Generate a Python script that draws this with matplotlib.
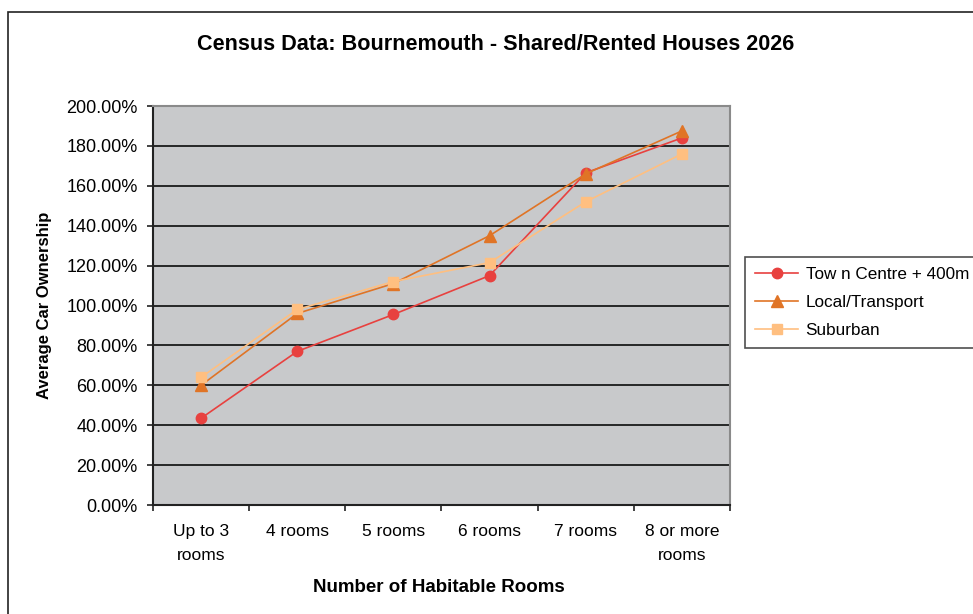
import matplotlib
import matplotlib.pyplot as plt
from matplotlib.patches import Rectangle
from matplotlib.ticker import FixedLocator, FuncFormatter

matplotlib.use("Agg")

plt.rcParams["font.family"] = ["Liberation Sans", "DejaVu Sans"]

categories = ["Up to 3\nrooms", "4 rooms", "5 rooms", "6 rooms", "7 rooms", "8 or more\nrooms"]
town_centre = [43.5, 77, 95.5, 115, 166.5, 184]
local_transport = [60, 96, 111, 135, 166, 187.5]
suburban = [64, 98, 112, 121.5, 152, 176]
series_names = ["Tow n Centre + 400m", "Local/Transport", "Suburban"]

W, H = 973, 614
fig = plt.figure(figsize=(W / 100, H / 100), dpi=100)

# outer chart frame (cut off on right and bottom like the source)
fig.patches.append(Rectangle((8 / W, -0.1), 1.2, (H - 12) / H + 0.1,
                             transform=fig.transFigure, fill=False,
                             edgecolor="#222222", linewidth=1.2))

ax = fig.add_axes([153 / W, (H - 505) / H, (730 - 153) / W, (505 - 106) / H])
ax.set_facecolor("#C8C9CB")

x = list(range(len(categories)))
ax.plot(x, town_centre, color="#E8413F", marker="o", markersize=7.5, linewidth=1.2,
        label=series_names[0], zorder=3)
ax.plot(x, local_transport, color="#E07426", marker="^", markersize=8.5, linewidth=1.2,
        label=series_names[1], zorder=3)
ax.plot(x, suburban, color="#FFBF80", marker="s", markersize=7, linewidth=1.2,
        label=series_names[2], zorder=3)

ax.set_xlim(-0.5, len(categories) - 0.5)
ax.set_ylim(0, 200)
ax.set_yticks(range(0, 201, 20))
ax.yaxis.set_major_formatter(FuncFormatter(lambda v, p: f"{v:.2f}%"))
ax.grid(axis="y", color="#1a1a1a", linewidth=1.3)
ax.set_axisbelow(True)

ax.set_xticks(x)
ax.set_xticklabels(categories, fontsize=12.5, linespacing=1.7)
ax.tick_params(axis="x", which="major", length=0, pad=14)
ax.xaxis.set_minor_locator(FixedLocator([i - 0.5 for i in range(len(categories) + 1)]))
ax.tick_params(axis="x", which="minor", length=4, width=1.2, color="#222222")
ax.tick_params(axis="y", labelsize=13, length=4, width=1.2, color="#222222", pad=7)

for side in ["top", "right"]:
    ax.spines[side].set_color("#8a8a8a")
    ax.spines[side].set_linewidth(1.5)
for side in ["left", "bottom"]:
    ax.spines[side].set_color("#222222")
    ax.spines[side].set_linewidth(1.5)

fig.text(496 / W, 1 - 45 / H, "Census Data: Bournemouth - Shared/Rented Houses 2026",
         ha="center", va="center", fontsize=15.6, fontweight="bold")
fig.text(439 / W, 1 - 588 / H, "Number of Habitable Rooms",
         ha="center", va="center", fontsize=13.5, fontweight="bold")
fig.text(45 / W, 1 - 305 / H, "Average Car Ownership", rotation=90,
         ha="center", va="center", fontsize=12, fontweight="bold")

leg = fig.legend(loc="upper left", bbox_to_anchor=(745 / W, 1 - 257 / H),
                 fontsize=12.3, frameon=True, fancybox=False, borderpad=0.6,
                 handlelength=2.5, handletextpad=0.45, labelspacing=0.75,
                 borderaxespad=0)
leg.get_frame().set_edgecolor("#222222")
leg.get_frame().set_linewidth(1.2)

fig.savefig("out.png", dpi=100)
